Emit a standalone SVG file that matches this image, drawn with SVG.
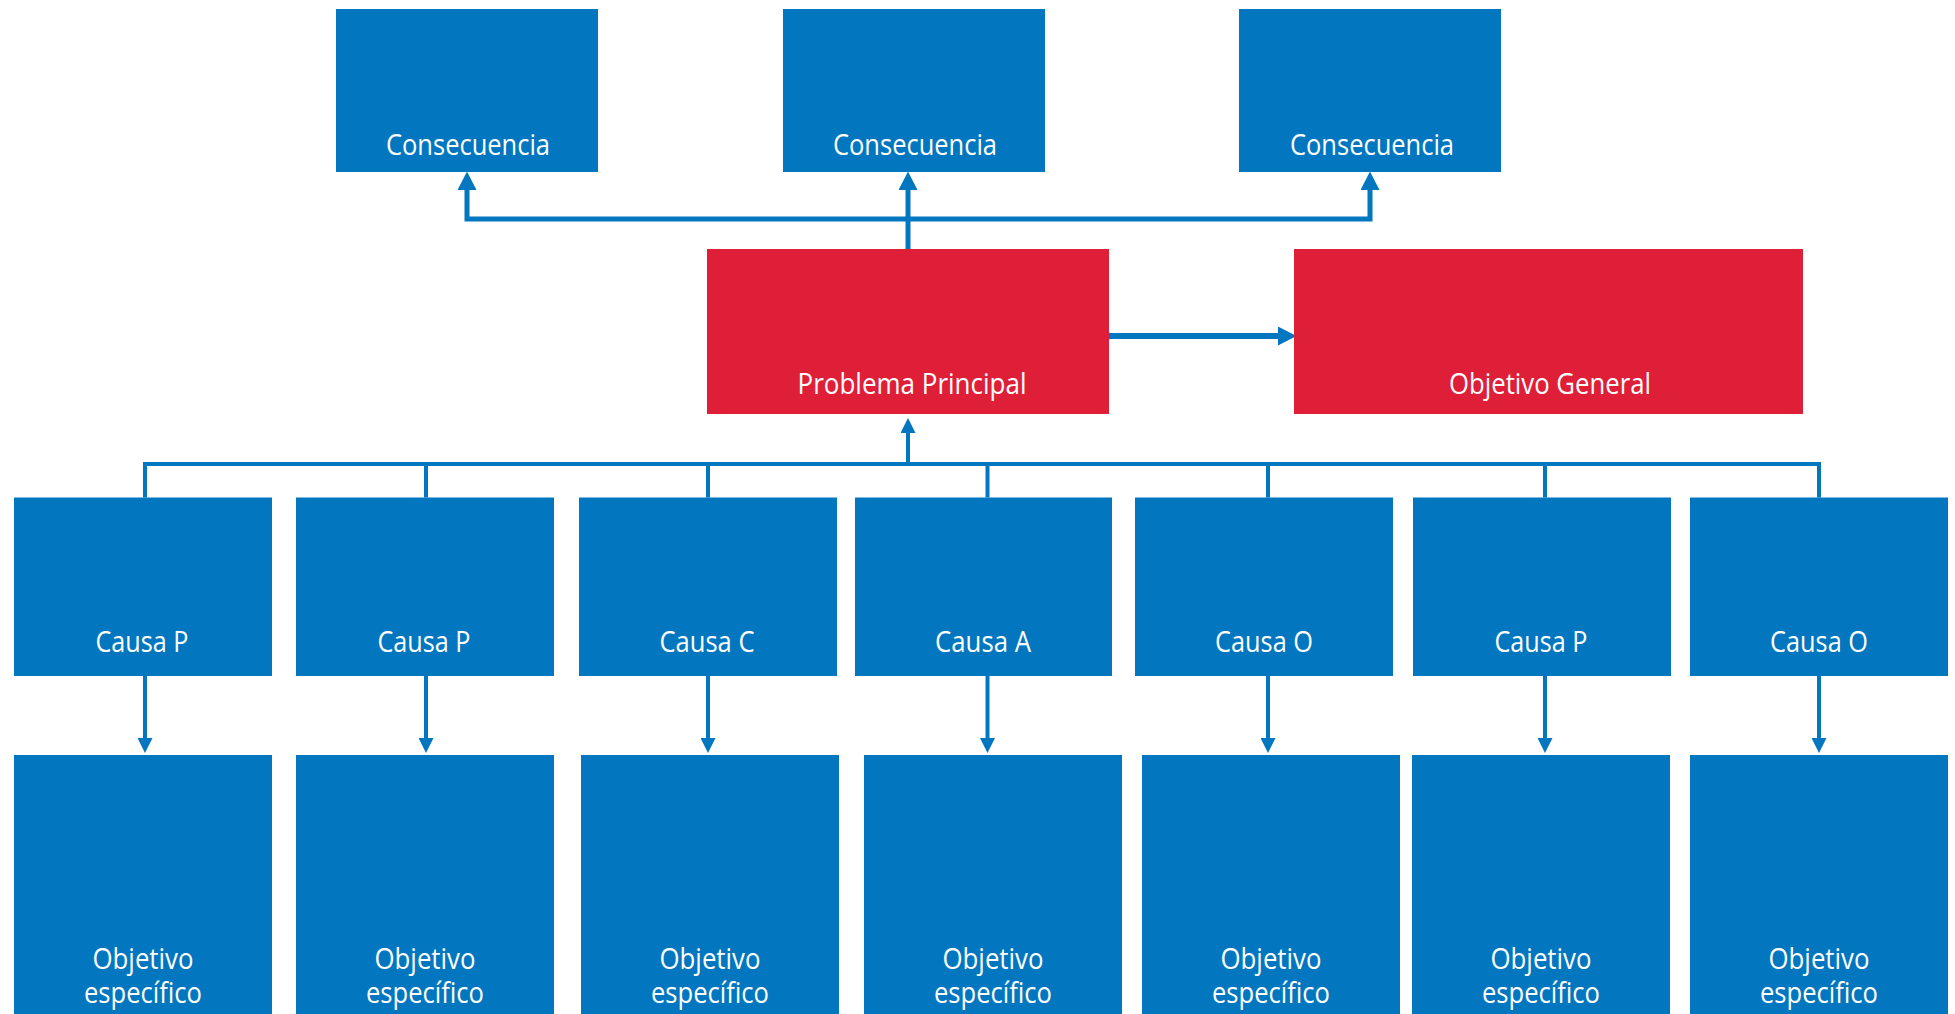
<svg xmlns="http://www.w3.org/2000/svg" width="1955" height="1014" viewBox="0 0 1955 1014">
  <style>
    .blue { fill: #0277C0; }
    .red { fill: #DF1E37; }
    .lbl { fill: #FFFFFF; font-family: "Open Sans", "Noto Sans", "DejaVu Sans", sans-serif; font-size: 29px; text-anchor: middle; }
    .conn { fill: none; stroke: #0277C0; stroke-linejoin: miter; stroke-linecap: butt; }
    .thick { stroke-width: 5; }
    .thin { stroke-width: 4; }
  </style>
  <defs>
    <marker id="bigHead" markerUnits="userSpaceOnUse" markerWidth="19" markerHeight="19" refX="0" refY="9.5" orient="auto-start-reverse" viewBox="0 0 19 19">
      <path d="M0,0 L18.5,9.5 L0,19 Z" fill="#0277C0"/>
    </marker>
    <marker id="smallHead" markerUnits="userSpaceOnUse" markerWidth="15" markerHeight="15" refX="0" refY="7.5" orient="auto-start-reverse" viewBox="0 0 15 15">
      <path d="M0,0 L15,7.5 L0,15 Z" fill="#0277C0"/>
    </marker>
  </defs>
  <rect width="1955" height="1014" fill="#FFFFFF"/>

  <g id="connectors">
    <path class="conn thick" d="M467,190 V219 H1370 V190" marker-start="url(#bigHead)" marker-end="url(#bigHead)"/>
    <path class="conn thick" d="M908,249 V190" marker-end="url(#bigHead)"/>
    <path class="conn" stroke-width="6" d="M1109,336 H1278" marker-end="url(#bigHead)"/>
    <path class="conn thin" d="M145,497.5 V464 H1819 V497.5"/>
    <path class="conn thin" d="M426,464 V497.5 M708,464 V497.5 M987.5,464 V497.5 M1268,464 V497.5 M1545,464 V497.5"/>
    <path class="conn thin" d="M908,464 V433" marker-end="url(#smallHead)"/>
    <path class="conn thin" d="M145,676 V738" marker-end="url(#smallHead)"/>
    <path class="conn thin" d="M426,676 V738" marker-end="url(#smallHead)"/>
    <path class="conn thin" d="M708,676 V738" marker-end="url(#smallHead)"/>
    <path class="conn thin" d="M987.5,676 V738" marker-end="url(#smallHead)"/>
    <path class="conn thin" d="M1268,676 V738" marker-end="url(#smallHead)"/>
    <path class="conn thin" d="M1545,676 V738" marker-end="url(#smallHead)"/>
    <path class="conn thin" d="M1819,676 V738" marker-end="url(#smallHead)"/>
  </g>

  <g id="consecuencia1"><rect class="blue" x="336" y="9" width="262" height="163"/><text class="lbl" x="468" y="155" textLength="164" lengthAdjust="spacingAndGlyphs">Consecuencia</text></g>
  <g id="consecuencia2"><rect class="blue" x="783" y="9" width="262" height="163"/><text class="lbl" x="915" y="155" textLength="164" lengthAdjust="spacingAndGlyphs">Consecuencia</text></g>
  <g id="consecuencia3"><rect class="blue" x="1239" y="9" width="262" height="163"/><text class="lbl" x="1372" y="155" textLength="164" lengthAdjust="spacingAndGlyphs">Consecuencia</text></g>

  <g id="problema"><rect class="red" x="707" y="249" width="402" height="165"/><text class="lbl" x="912" y="394" textLength="229" lengthAdjust="spacingAndGlyphs">Problema Principal</text></g>
  <g id="objetivoGeneral"><rect class="red" x="1294" y="249" width="509" height="165"/><text class="lbl" x="1550" y="394" textLength="202" lengthAdjust="spacingAndGlyphs">Objetivo General</text></g>

  <g id="causa1"><rect class="blue" x="14" y="497.5" width="258" height="178.5"/><text class="lbl" x="142" y="652" textLength="93" lengthAdjust="spacingAndGlyphs">Causa P</text></g>
  <g id="causa2"><rect class="blue" x="296" y="497.5" width="258" height="178.5"/><text class="lbl" x="424" y="652" textLength="93" lengthAdjust="spacingAndGlyphs">Causa P</text></g>
  <g id="causa3"><rect class="blue" x="579" y="497.5" width="258" height="178.5"/><text class="lbl" x="707" y="652" textLength="95" lengthAdjust="spacingAndGlyphs">Causa C</text></g>
  <g id="causa4"><rect class="blue" x="855" y="497.5" width="257" height="178.5"/><text class="lbl" x="983" y="652" textLength="96" lengthAdjust="spacingAndGlyphs">Causa A</text></g>
  <g id="causa5"><rect class="blue" x="1135" y="497.5" width="258" height="178.5"/><text class="lbl" x="1264" y="652" textLength="98" lengthAdjust="spacingAndGlyphs">Causa O</text></g>
  <g id="causa6"><rect class="blue" x="1413" y="497.5" width="258" height="178.5"/><text class="lbl" x="1541" y="652" textLength="93" lengthAdjust="spacingAndGlyphs">Causa P</text></g>
  <g id="causa7"><rect class="blue" x="1690" y="497.5" width="258" height="178.5"/><text class="lbl" x="1819" y="652" textLength="98" lengthAdjust="spacingAndGlyphs">Causa O</text></g>

  <g id="objetivo1"><rect class="blue" x="14" y="755" width="258" height="270"/><text class="lbl" x="143" y="969" textLength="101" lengthAdjust="spacingAndGlyphs">Objetivo</text><text class="lbl" x="143" y="1003" textLength="118" lengthAdjust="spacingAndGlyphs">específico</text></g>
  <g id="objetivo2"><rect class="blue" x="296" y="755" width="258" height="270"/><text class="lbl" x="425" y="969" textLength="101" lengthAdjust="spacingAndGlyphs">Objetivo</text><text class="lbl" x="425" y="1003" textLength="118" lengthAdjust="spacingAndGlyphs">específico</text></g>
  <g id="objetivo3"><rect class="blue" x="581" y="755" width="258" height="270"/><text class="lbl" x="710" y="969" textLength="101" lengthAdjust="spacingAndGlyphs">Objetivo</text><text class="lbl" x="710" y="1003" textLength="118" lengthAdjust="spacingAndGlyphs">específico</text></g>
  <g id="objetivo4"><rect class="blue" x="864" y="755" width="258" height="270"/><text class="lbl" x="993" y="969" textLength="101" lengthAdjust="spacingAndGlyphs">Objetivo</text><text class="lbl" x="993" y="1003" textLength="118" lengthAdjust="spacingAndGlyphs">específico</text></g>
  <g id="objetivo5"><rect class="blue" x="1142" y="755" width="258" height="270"/><text class="lbl" x="1271" y="969" textLength="101" lengthAdjust="spacingAndGlyphs">Objetivo</text><text class="lbl" x="1271" y="1003" textLength="118" lengthAdjust="spacingAndGlyphs">específico</text></g>
  <g id="objetivo6"><rect class="blue" x="1412" y="755" width="258" height="270"/><text class="lbl" x="1541" y="969" textLength="101" lengthAdjust="spacingAndGlyphs">Objetivo</text><text class="lbl" x="1541" y="1003" textLength="118" lengthAdjust="spacingAndGlyphs">específico</text></g>
  <g id="objetivo7"><rect class="blue" x="1690" y="755" width="258" height="270"/><text class="lbl" x="1819" y="969" textLength="101" lengthAdjust="spacingAndGlyphs">Objetivo</text><text class="lbl" x="1819" y="1003" textLength="118" lengthAdjust="spacingAndGlyphs">específico</text></g>
</svg>
